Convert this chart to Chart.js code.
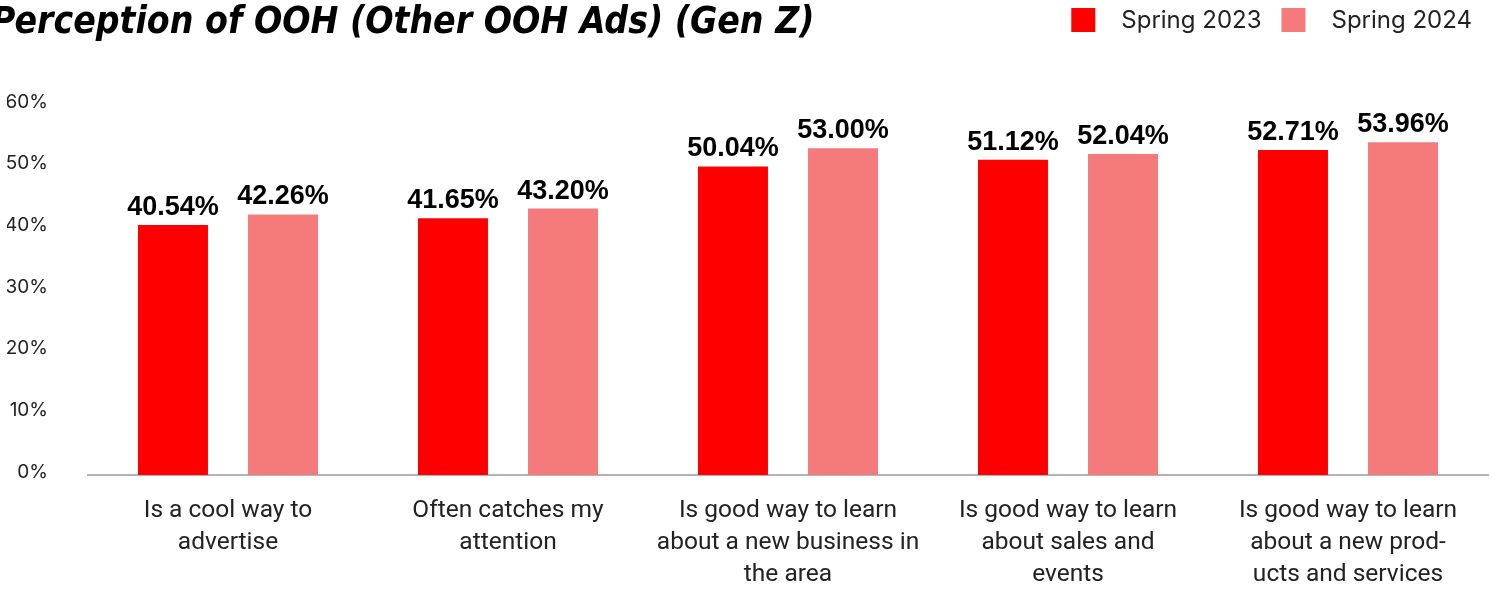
<!DOCTYPE html>
<html>
<head>
<meta charset="utf-8">
<title>Perception of OOH (Other OOH Ads) (Gen Z)</title>
<script src="https://cdn.jsdelivr.net/npm/chart.js@4.4.1/dist/chart.umd.min.js"></script>
<style>
  html, body { margin: 0; padding: 0; background: #fff; }
  #wrap { width: 1491px; height: 590px; position: relative; }
</style>
</head>
<body>
<div id="wrap"><canvas id="myChart"></canvas></div>
<script>
// Datos del grafico
const titulo = 'Perception of OOH (Other OOH Ads) (Gen Z)';
const categorias = [
    ['Is a cool way to', 'advertise'],
    ['Often catches my', 'attention'],
    ['Is good way to learn', 'about a new business in', 'the area'],
    ['Is good way to learn', 'about sales and', 'events'],
    ['Is good way to learn', 'about a new prod-', 'ucts and services']
];
const spring2023 = [40.54, 41.65, 50.04, 51.12, 52.71];
const spring2024 = [42.26, 43.20, 53.00, 52.04, 53.96];
const ticksY = [0, 10, 20, 30, 40, 50, 60];

const rojo = '#ff0000';
const rosa = '#f47a7b';

// Titulo + leyenda dibujados a mano (van en la misma linea)
const tituloLeyenda = {
    id: 'tituloLeyenda',
    afterDraw(chart) {
        const ctx = chart.ctx;
        ctx.save();
        ctx.fillStyle = '#000';
        ctx.textAlign = 'left';
        ctx.textBaseline = 'alphabetic';
        ctx.font = 'italic bold 37px "DejaVu Sans Condensed", "DejaVu Sans", sans-serif';
        ctx.fillText(titulo, -9, 33);

        // Leyenda arriba a la derecha
        ctx.font = '24px Inter, sans-serif';
        ctx.textBaseline = 'middle';
        const items = chart.data.datasets.map(ds => ({ text: ds.label, color: ds.backgroundColor, w: ctx.measureText(ds.label).width }));
        const box = 24, gapTexto = 26, gapItem = 20;
        let total = 0;
        items.forEach((it, i) => { total += box + gapTexto + it.w + (i > 0 ? gapItem : 0); });
        let x = chart.width - 19 - total;
        items.forEach(it => {
            ctx.fillStyle = it.color;
            ctx.fillRect(x, 8, box, box);
            ctx.fillStyle = '#222';
            ctx.fillText(it.text, x + box + gapTexto, 21);
            x += box + gapTexto + it.w + gapItem;
        });
        ctx.restore();
    }
};

// Etiquetas de valor encima de cada barra
const etiquetasValor = {
    id: 'etiquetasValor',
    afterDatasetsDraw(chart) {
        const ctx = chart.ctx;
        ctx.save();
        ctx.fillStyle = '#000';
        ctx.font = 'bold 27px "Liberation Sans", Arial, sans-serif';
        ctx.textAlign = 'center';
        ctx.textBaseline = 'alphabetic';
        chart.data.datasets.forEach((ds, i) => {
            chart.getDatasetMeta(i).data.forEach((bar, j) => {
                ctx.fillText(ds.data[j].toFixed(2) + '%', bar.x, bar.y - 10);
            });
        });
        ctx.restore();
    }
};

const data = {
    labels: categorias,
    datasets: [
        {
            label: 'Spring 2023',
            data: spring2023,
            backgroundColor: rojo,
            categoryPercentage: 0.786,
            barPercentage: 0.636
        },
        {
            label: 'Spring 2024',
            data: spring2024,
            backgroundColor: rosa,
            categoryPercentage: 0.786,
            barPercentage: 0.636
        }
    ]
};

const config = {
    type: 'bar',
    data: data,
    plugins: [tituloLeyenda, etiquetasValor],
    options: {
        animation: false,
        responsive: true,
        maintainAspectRatio: false,
        layout: {
            padding: { top: 105, left: 7, right: 3, bottom: 0 }
        },
        scales: {
            x: {
                grid: { display: false, drawTicks: false },
                border: { display: true, color: '#b3b3b3', width: 2 },
                ticks: {
                    color: '#222',
                    padding: 20,
                    maxRotation: 0,
                    autoSkip: false,
                    font: { family: 'Roboto, sans-serif', size: 24.5, lineHeight: '32px' }
                },
                // sin margen extra por las etiquetas largas
                afterFit: (scale) => {
                    scale.paddingLeft = 0;
                    scale.paddingRight = 0;
                    scale.height = 115;
                }
            },
            y: {
                min: 0,
                max: 60,
                afterBuildTicks: (scale) => { scale.ticks = ticksY.map(v => ({ value: v })); },
                grid: { display: false, drawTicks: false },
                border: { display: false },
                ticks: {
                    color: '#222',
                    padding: 40,
                    labelOffset: -3,
                    font: { family: 'Inter, sans-serif', size: 19 },
                    callback: (v) => v + '%'
                },
                // el padding se cuenta doble en Chart.js, fijamos el ancho
                afterFit: (scale) => {
                    scale.width = 81;
                }
            }
        },
        plugins: {
            legend: { display: false },
            title: { display: false },
            tooltip: { enabled: false }
        }
    }
};

const myChart = new Chart(document.getElementById('myChart'), config);
</script>
</body>
</html>
